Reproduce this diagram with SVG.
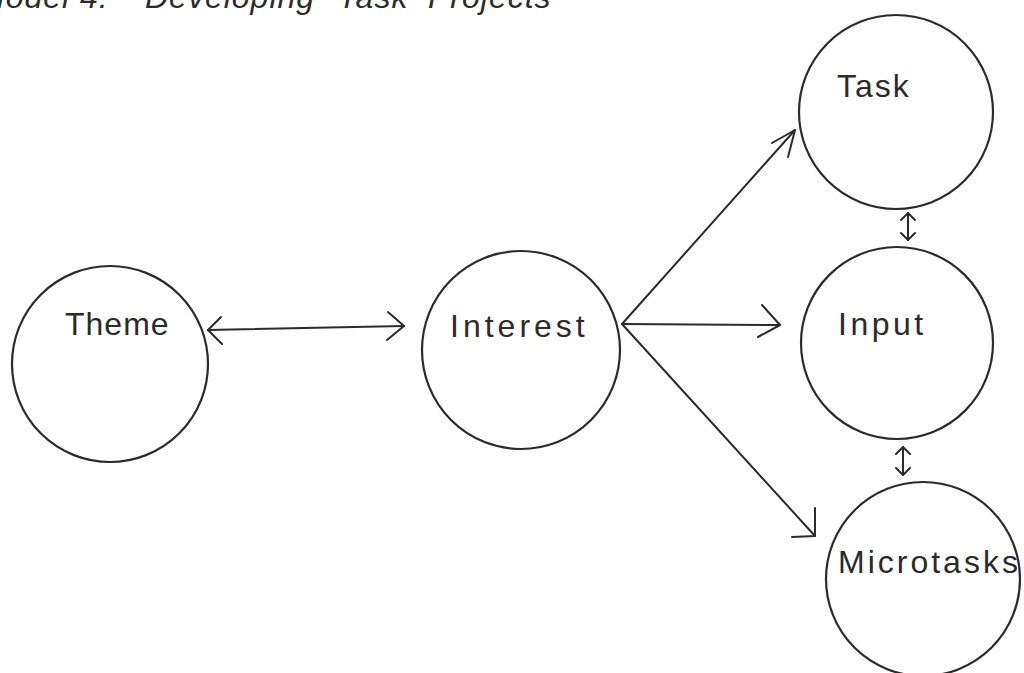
<svg xmlns="http://www.w3.org/2000/svg" width="1024" height="673" viewBox="0 0 1024 673">
<style>
.node{fill:none;stroke:#2b2b2b;stroke-width:2.2}
.lbl{font-family:"Liberation Sans",Arial,sans-serif;font-size:32px;fill:#2b2b2b}
.title{font-family:"Liberation Sans",Arial,sans-serif;font-size:32px;font-style:italic;fill:#2b2b2b;letter-spacing:1px}
.edge{fill:none;stroke:#2b2b2b;stroke-width:2;stroke-linecap:round;stroke-linejoin:round}
</style>
<rect width="1024" height="673" fill="#ffffff"/>
<text class="title" y="8"><tspan x="-22">Model 4:</tspan><tspan x="145">Developing</tspan><tspan x="338">Task</tspan><tspan x="428">Projects</tspan></text>
<g id="theme">
<circle class="node" cx="110" cy="364" r="98"/>
<text class="lbl" x="65" y="335" letter-spacing="1">Theme</text>
</g>
<g id="interest">
<circle class="node" cx="521" cy="350" r="99"/>
<text class="lbl" x="450" y="337" letter-spacing="4">Interest</text>
</g>
<g id="task">
<circle class="node" cx="896" cy="112" r="97"/>
<text class="lbl" x="837" y="97" letter-spacing="2">Task</text>
</g>
<g id="input">
<circle class="node" cx="897" cy="343" r="96"/>
<text class="lbl" x="838" y="335" letter-spacing="3.5">Input</text>
</g>
<g id="microtasks">
<circle class="node" cx="923" cy="579" r="97"/>
<text class="lbl" x="838" y="573" letter-spacing="3">Microtasks</text>
</g>
<g id="connectors">
<path class="edge" d="M208,330 L404,326"/>
<path class="edge" d="M221,317 L208,330 L222,344"/>
<path class="edge" d="M388,312 L404,326 L387,340"/>
<path class="edge" d="M622,324 L795,130"/>
<path class="edge" d="M772,143 L795,130 L788,157"/>
<path class="edge" d="M622,324 L780,325"/>
<path class="edge" d="M762,305 L780,325 L758,337"/>
<path class="edge" d="M622,324 L815,536"/>
<path class="edge" d="M815,508 L815,536 L792,537"/>
<path class="edge" d="M908,213 L908,240"/>
<path class="edge" d="M901,220 L908,213 L915,220"/>
<path class="edge" d="M901,233 L908,240 L915,233"/>
<path class="edge" d="M903,447 L903,475"/>
<path class="edge" d="M896,454 L903,447 L910,454"/>
<path class="edge" d="M896,468 L903,475 L910,468"/>
</g>
</svg>
